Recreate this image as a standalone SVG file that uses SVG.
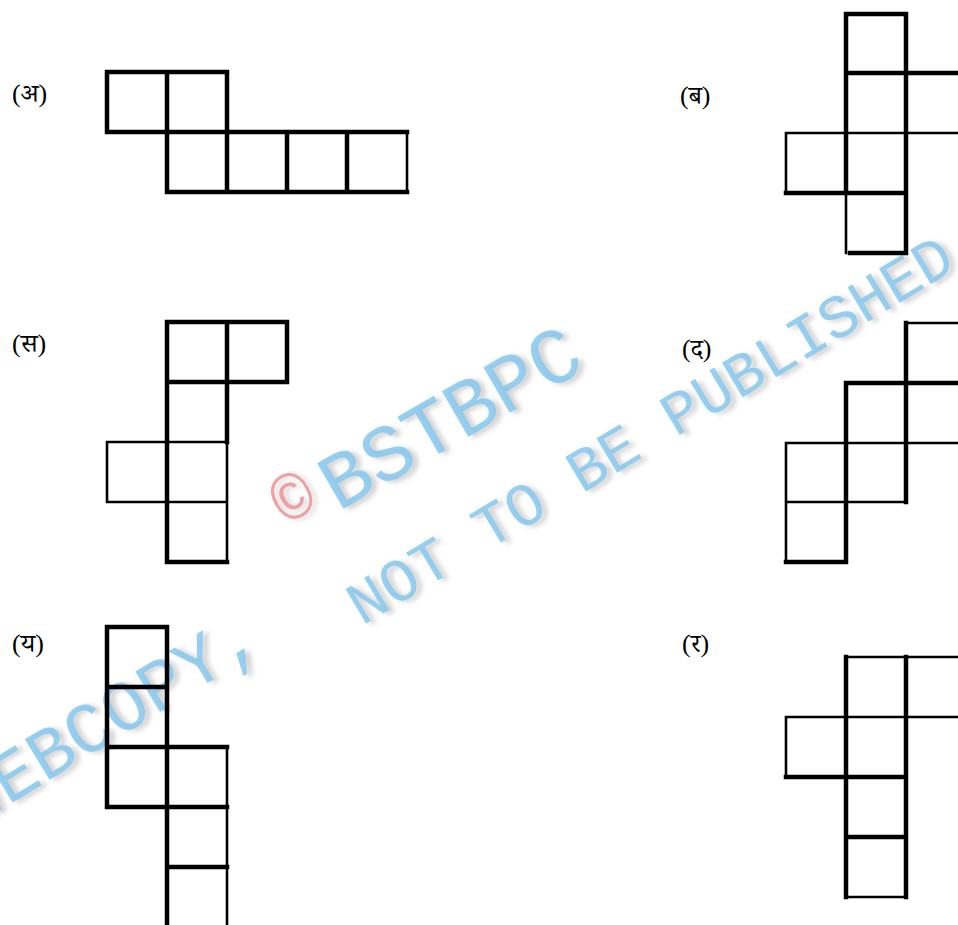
<svg xmlns="http://www.w3.org/2000/svg" width="958" height="925" viewBox="0 0 958 925">
<defs>
<style>
.k{stroke:#000;stroke-width:4.5;stroke-linecap:square;fill:none}
.t{stroke:#000;stroke-width:2.6;stroke-linecap:square;fill:none}
.lbl{font-family:"Liberation Serif","Noto Serif Devanagari","Noto Sans Devanagari","Noto Sans",serif;font-size:26px;fill:#000}
.wm{font-family:"Liberation Mono","Courier New",monospace;fill:#86c8ef;opacity:0.85}
.wms{font-family:"Liberation Mono","Courier New",monospace;fill:#8a8a8a;opacity:0.4}
</style>
<filter id="blur" x="-5%" y="-20%" width="110%" height="140%"><feGaussianBlur stdDeviation="2.5"/></filter>
</defs>
<rect width="958" height="925" fill="#fff"/>

<g id="watermark">
  <g transform="translate(293,498) rotate(-30)">
    <text font-family="Liberation Mono,monospace" font-size="66" text-anchor="middle" x="3" y="25" fill="#8a8a8a" opacity="0.35" filter="url(#blur)">©</text>
    <text font-family="Liberation Mono,monospace" font-size="66" text-anchor="middle" y="22" fill="#f0a0a0">©</text>
  </g>
  <g transform="translate(338,512) rotate(-30)">
    <text class="wms" font-size="80" x="4" y="4" filter="url(#blur)">BSTBPC</text>
    <text class="wm" font-size="80">BSTBPC</text>
  </g>
  <g transform="translate(-29,828) rotate(-31.5)">
    <text class="wms" font-size="72" x="4" y="4" filter="url(#blur)">WEBCOPY,</text>
    <text class="wm" font-size="72">WEBCOPY,</text>
  </g>
  <g transform="translate(362,626) rotate(-31)">
    <text class="wms" font-size="61" x="4" y="4" filter="url(#blur)">NOT TO BE PUBLISHED</text>
    <text class="wm" font-size="61">NOT TO BE PUBLISHED</text>
  </g>
</g>

<g id="fig-a">
  <text class="lbl" x="12" y="102">(अ)</text>
  <path class="k" d="M107,72H227M107,72V132M167,72V192M227,72V192M107,132H407M167,192H407M287,132V192M347,132V192"/>
  <path class="t" d="M407,132V192"/>
</g>

<g id="fig-b">
  <text class="lbl" x="680" y="104">(ब)</text>
  <path class="k" d="M846,14H906M846,14V193M906,14V253M846,73H958M786,193H906M850,253H906"/>
  <path class="t" d="M786,133H958M786,133V193M846,193V253"/>
</g>

<g id="fig-c">
  <text class="lbl" x="12" y="352">(स)</text>
  <path class="k" d="M167,322H287M167,322V562M227,322V442M287,322V382M167,382H287M167,562H227"/>
  <path class="t" d="M227,442V562M107,442H227M107,502H227M107,442V502"/>
</g>

<g id="fig-d">
  <text class="lbl" x="682" y="357">(द)</text>
  <path class="k" d="M906,323V502M846,383H958M846,383V562M786,562H846"/>
  <path class="t" d="M906,323H958M786,443H958M786,502H906M786,443V562"/>
</g>

<g id="fig-e">
  <text class="lbl" x="12" y="652">(य)</text>
  <path class="k" d="M107,627H167M107,627V807M167,627V927M107,687H167M107,747H227M107,807H227M167,867H227"/>
  <path class="t" d="M227,747V927"/>
</g>

<g id="fig-f">
  <text class="lbl" x="682" y="652">(र)</text>
  <path class="k" d="M846,657V897M906,657V897M786,777H906M846,837H906"/>
  <path class="t" d="M846,657H958M786,717H958M786,717V777M846,897H906"/>
</g>
</svg>
